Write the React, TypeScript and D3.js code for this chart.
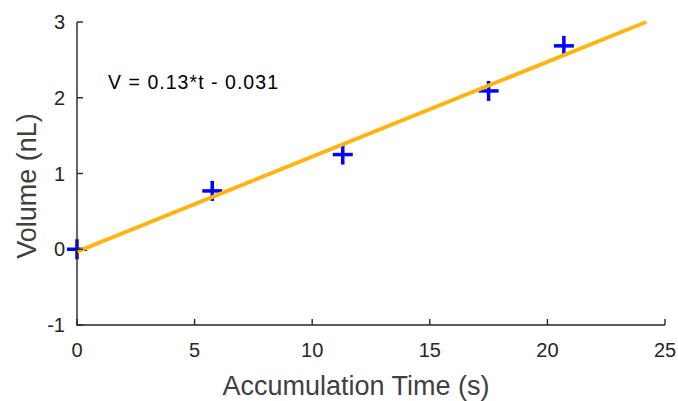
import React from 'react';
import * as d3 from 'd3';

// measured points
const timeS = [0, 5.75, 11.3, 17.5, 20.7];
const volumeNL = [0, 0.77, 1.25, 2.09, 2.685];

// fitted line end points
const fitT = [0, 24.2];
const fitV = [-0.031, 3.0];

const xTicks = [0, 5, 10, 15, 20, 25];
const yTicks = [-1, 0, 1, 2, 3];
const fitLabel = 'V = 0.13*t - 0.031';

const W = 678;
const H = 401;
const margin = { left: 77, right: 13, top: 22, bottom: 76 };
const FONT = '"Liberation Sans", Arial, sans-serif';
const AX = '#262626';

export default function App() {
  const x = d3.scaleLinear().domain([0, 25]).range([margin.left, W - margin.right]);
  const y = d3.scaleLinear().domain([-1, 3]).range([H - margin.bottom, margin.top]);

  const line = d3.line<number>()
    .x((d, i) => x(fitT[i]))
    .y(d => y(d));

  const x0 = x(0), y0 = y(-1);
  const arm = 10;

  return (
    <div style={{ position: 'fixed', left: 0, top: 0 }}>
      <svg width={W} height={H} style={{ display: 'block', background: '#fff' }}>
        {/* markers */}
        {timeS.map((t, i) => (
          <g key={i} stroke="#0000ff" strokeWidth={3.5}>
            <line x1={x(t) - arm} x2={x(t) + arm} y1={y(volumeNL[i])} y2={y(volumeNL[i])} />
            <line x1={x(t)} x2={x(t)} y1={y(volumeNL[i]) - arm} y2={y(volumeNL[i]) + arm} />
          </g>
        ))}
        {/* fit */}
        <path d={line(fitV) || ''} fill="none" stroke="#FDB515" strokeWidth={4} />

        {/* axes */}
        <g stroke={AX} strokeWidth={1.4} fill="none">
          <path d={`M${x0},${y(3)}V${y0}H${x(25)}`} />
          {xTicks.map(t => (
            <line key={t} x1={x(t)} x2={x(t)} y1={y0} y2={y0 - 6} />
          ))}
          {yTicks.map(t => (
            <line key={t} x1={x0} x2={x0 + 6} y1={y(t)} y2={y(t)} />
          ))}
        </g>
        <g fontFamily={FONT} fontSize={20} fill={AX}>
          {xTicks.map(t => (
            <text key={t} x={x(t)} y={y0 + 32} textAnchor="middle">{t}</text>
          ))}
          {yTicks.map(t => (
            <text key={t} x={x0 - 12} y={y(t) + 7} textAnchor="end">{t}</text>
          ))}
        </g>
        <text x={108} y={89} fontFamily={FONT} fontSize={19.5} fill="#000" textLength={170}>{fitLabel}</text>

        <text x={356} y={395} textAnchor="middle" fontFamily={FONT} fontSize={27} fill="#404040">
          Accumulation Time (s)
        </text>
        <text transform={`translate(36,186) rotate(-90)`} textAnchor="middle" fontFamily={FONT} fontSize={27} fill="#404040">
          Volume (nL)
        </text>
      </svg>
    </div>
  );
}
